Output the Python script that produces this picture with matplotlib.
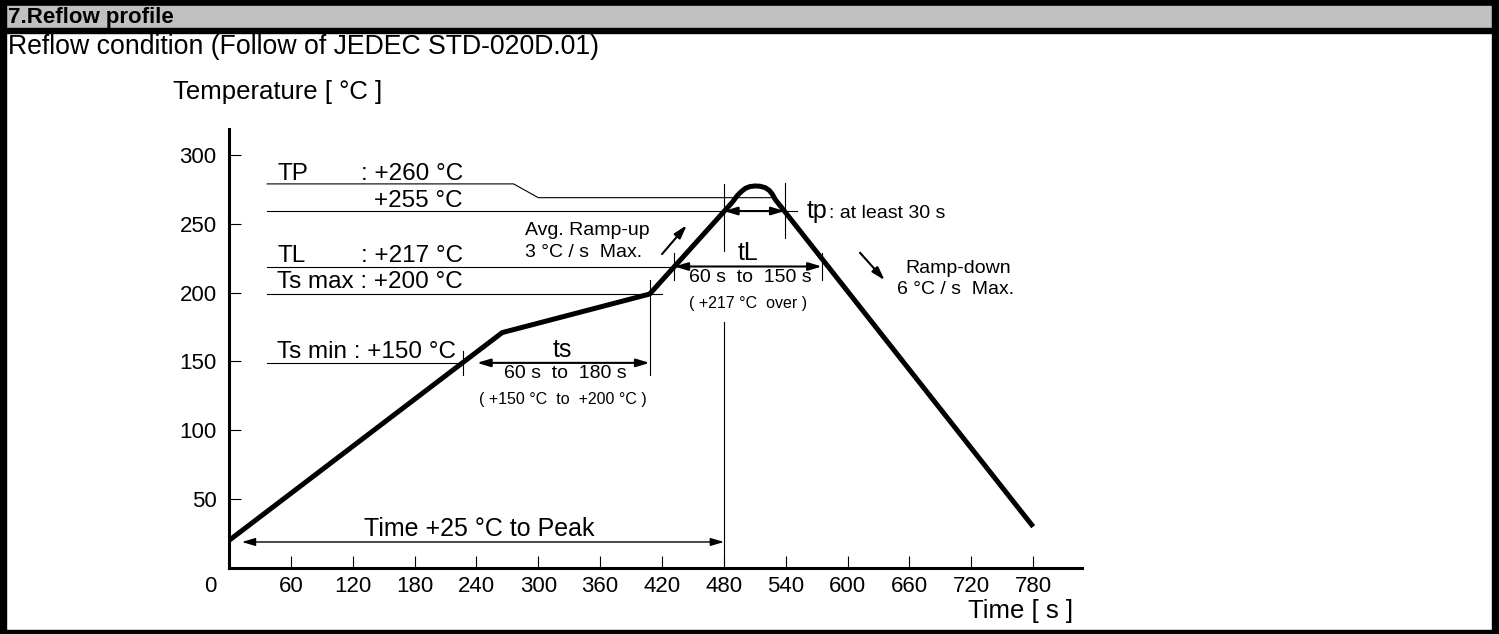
import matplotlib
matplotlib.use("Agg")
import matplotlib.pyplot as plt
from matplotlib.patches import Rectangle

plt.rcParams['font.family'] = ['Liberation Sans', 'DejaVu Sans']

# reflow profile as drawn (time s, temperature degC on the drawing scale)
profile_time = [0, 265, 408, 488, 493, 497, 501, 505, 510, 515, 520, 524, 527, 530, 780]
profile_temp = [20, 171, 199, 265.5, 270.5, 273.5, 275.8, 277, 277.5, 277.3, 276.3, 274.3,
                271.5, 267.5, 30]

x_ticks = [60, 120, 180, 240, 300, 360, 420, 480, 540, 600, 660, 720, 780]
y_ticks = [50, 100, 150, 200, 250, 300]

# heights of the guide lines on the drawing
tp_line_time = [37, 276, 300, 527]
tp_line_temp = [279, 279, 269, 269]
lvl_255 = 259.3
lvl_tl = 219
lvl_tsmax = 199
lvl_tsmin = 149

# time marks
t_tsmin = 227
t_tsmax = 408
t_tl_start = 432
t_tl_end = 575
t_peak = 480
t_tp_end = 539

fig = plt.figure(figsize=(14.99, 6.34), dpi=100)

# frame / header drawn in pixel space
bg = fig.add_axes([0, 0, 1, 1])
bg.set_xlim(0, 1499)
bg.set_ylim(634, 0)
bg.axis('off')
bg.add_patch(Rectangle((0, 0), 1499, 6, color='black'))
bg.add_patch(Rectangle((6, 6), 1486, 22, color='#c0c0c0'))
bg.add_patch(Rectangle((0, 28), 1499, 5, color='black'))
bg.add_patch(Rectangle((0, 0), 6, 634, color='black'))
bg.add_patch(Rectangle((1492, 0), 7, 634, color='black'))
bg.add_patch(Rectangle((0, 630), 1499, 4, color='black'))

bg.text(8, 17, "7.Reflow profile", fontsize=16, fontweight='bold', va='center')
bg.text(8, 47, "Reflow condition (Follow of JEDEC STD-020D.01)", fontsize=19.2, va='center')
bg.text(173, 92, "Temperature [ °C ]", fontsize=18.5, va='center')
bg.text(1073, 611, "Time [ s ]", fontsize=18.5, ha='right', va='center')
bg.text(210, 586, "0", fontsize=16, ha='center', va='center')

ax = fig.add_axes([229 / 1499, 66 / 634, 853 / 1499, 439 / 634])
ax.patch.set_alpha(0)
ax.set_xlim(0, 853 / 1.031)
ax.set_ylim(0, 439 / 1.3767)
for s in ['top', 'right']:
    ax.spines[s].set_visible(False)
for s in ['left', 'bottom']:
    ax.spines[s].set_linewidth(2.2)
ax.set_xticks(x_ticks)
ax.set_yticks(y_ticks)
ax.tick_params(direction='in', length=8.5, width=0.8, labelsize=16)
ax.tick_params(axis='x', pad=6)
ax.tick_params(axis='y', pad=9)

# profile
ax.plot(profile_time, profile_temp, color='black', lw=3.6, solid_joinstyle='round',
        solid_capstyle='butt', zorder=5)

thin = dict(color='black', lw=0.8)
# horizontal guide lines
ax.plot(tp_line_time, tp_line_temp, **thin)
ax.plot([37, 551], [lvl_255, lvl_255], **thin)
ax.plot([37, t_tl_start], [lvl_tl, lvl_tl], **thin)
ax.plot([37, 420], [lvl_tsmax, lvl_tsmax], **thin)
ax.plot([37, t_tsmin], [lvl_tsmin, lvl_tsmin], **thin)
# vertical marks
ax.plot([t_tsmax, t_tsmax], [209, 140], **thin)
ax.plot([t_tsmin, t_tsmin], [157.6, 140], **thin)
ax.plot([t_tl_start, t_tl_start], [229, 209], **thin)
ax.plot([t_tl_end, t_tl_end], [229, 209], **thin)
ax.plot([t_peak, t_peak], [279, 230], **thin)
ax.plot([t_peak, t_peak], [179, 0], **thin)
ax.plot([t_tp_end, t_tp_end], [280, 240], **thin)


def dbl_arrow(t1, t2, y, lw=1.5):
    ax.annotate('', xy=(t2, y), xytext=(t1, y),
                arrowprops=dict(arrowstyle='<|-|>,head_length=0.5,head_width=0.15',
                                mutation_scale=16, lw=lw, color='black',
                                shrinkA=0, shrinkB=0))


def one_arrow(t1, y1, t2, y2):
    ax.annotate('', xy=(t2, y2), xytext=(t1, y1),
                arrowprops=dict(arrowstyle='-|>,head_length=0.5,head_width=0.15',
                                mutation_scale=16, lw=1.5, color='black',
                                shrinkA=0, shrinkB=0))


dbl_arrow(240.5, t_tsmax, lvl_tsmin)
dbl_arrow(t_tl_start, t_tl_end, lvl_tl)
dbl_arrow(t_peak, t_tp_end, lvl_255)
dbl_arrow(12.6, t_peak, 18.9, lw=1.0)
one_arrow(420, 228, 444, 249)
one_arrow(612, 229, 636, 209)

big = 17.5
ax.text(46.6, 281.8, "TP", fontsize=big)
ax.text(227, 281.8, ": +260 °C", fontsize=big, ha='right')
ax.text(227, 262.2, "+255 °C", fontsize=big, ha='right')
ax.text(46.6, 222.5, "TL", fontsize=big)
ax.text(227, 222.5, ": +217 °C", fontsize=big, ha='right')
ax.text(46.6, 203.2, "Ts max : +200 °C", fontsize=big)
ax.text(46.6, 152.3, "Ts min : +150 °C", fontsize=big)

ax.text(323, 153.5, "ts", fontsize=18, ha='center')
ax.text(326, 138, "60 s  to  180 s", fontsize=14, ha='center')
ax.text(324, 119, "( +150 °C  to  +200 °C )", fontsize=11.5, ha='center')

ax.text(503, 223.7, "tL", fontsize=18, ha='center')
ax.text(506, 207.7, "60 s  to  150 s", fontsize=14, ha='center')
ax.text(503, 188.9, "( +217 °C  over )", fontsize=11.5, ha='center')

ax.text(560.6, 254, "tp", fontsize=18)
ax.text(582, 254, ": at least 30 s", fontsize=14)

ax.text(287, 241.9, "Avg. Ramp-up", fontsize=14)
ax.text(287, 226, "3 °C / s  Max.", fontsize=14)
ax.text(707, 214.3, "Ramp-down", fontsize=14, ha='center')
ax.text(705, 199, "6 °C / s  Max.", fontsize=14, ha='center')

ax.text(242.5, 23, "Time +25 °C to Peak", fontsize=18, ha='center')

fig.savefig("out.png", dpi=100)
